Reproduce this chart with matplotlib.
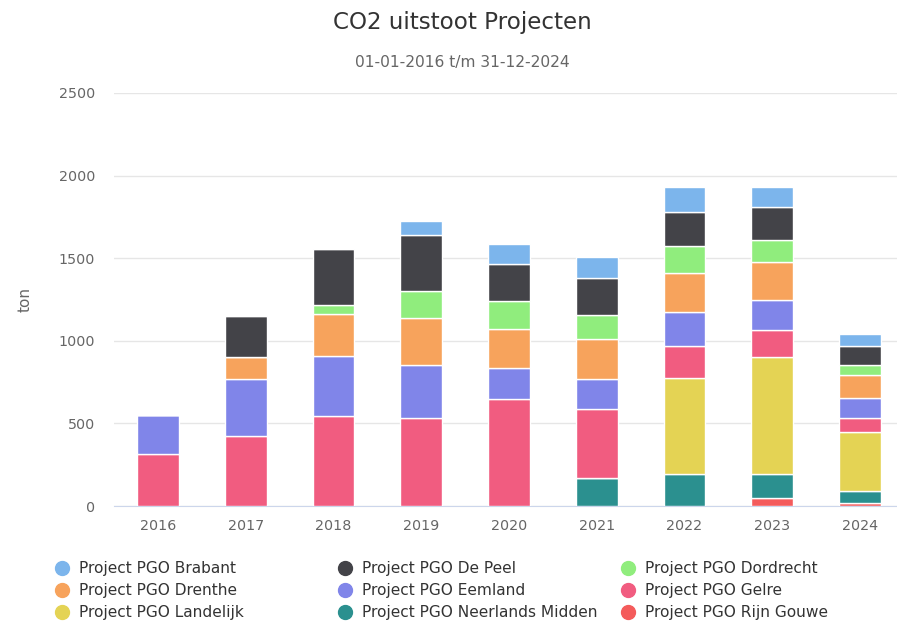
import numpy as np
import matplotlib.pyplot as plt
from matplotlib.lines import Line2D

plt.rcParams['font.family'] = ['DejaVu Sans']

years = ['2016', '2017', '2018', '2019', '2020', '2021', '2022', '2023', '2024']

# legend order (row-wise, 3 per row)
series_names = [
    'Project PGO Brabant', 'Project PGO De Peel', 'Project PGO Dordrecht',
    'Project PGO Drenthe', 'Project PGO Eemland', 'Project PGO Gelre',
    'Project PGO Landelijk', 'Project PGO Neerlands Midden', 'Project PGO Rijn Gouwe',
]
series_colors = ['#7cb5ec', '#434348', '#90ed7d', '#f7a35c', '#8085e9',
                 '#f15c80', '#e4d354', '#2b908f', '#f45b5b']

brabant = [0, 0, 0, 85, 121, 127, 151, 120, 75]
de_peel = [0, 246, 339, 336, 228, 221, 205, 198, 117]
dordrecht = [0, 0, 54, 167, 165, 149, 163, 135, 60]
drenthe = [0, 137, 258, 283, 236, 242, 236, 232, 137]
eemland = [237, 343, 361, 322, 191, 182, 206, 177, 125]
gelre = [313, 423, 546, 530, 647, 415, 193, 165, 85]
landelijk = [0, 0, 0, 0, 0, 0, 584, 711, 352]
neerlands_midden = [0, 0, 0, 0, 0, 171, 192, 146, 73]
rijn_gouwe = [0, 0, 0, 0, 0, 0, 0, 46, 20]

series_values = [brabant, de_peel, dordrecht, drenthe, eemland, gelre,
                 landelijk, neerlands_midden, rijn_gouwe]

fig = plt.figure(figsize=(8.97, 6.23), dpi=100, facecolor='white')
ax = fig.add_axes([114 / 897, 1 - 506 / 623, 790 / 897, 413 / 623])

x = np.arange(len(years))
bottom = np.zeros(len(years))
# stacked bottom-up: last series at the bottom
for name, color, vals in reversed(list(zip(series_names, series_colors, series_values))):
    vals = np.array(vals, dtype=float)
    ax.bar(x, vals, width=0.475, bottom=bottom, color=color,
           edgecolor='white', linewidth=1, zorder=3)
    bottom += vals

ax.set_xlim(-0.5, len(years) - 0.5)
ax.set_ylim(0, 2500)
ax.set_yticks(np.arange(0, 2501, 500))
ax.set_xticks(x)
ax.set_xticklabels(years)
ax.tick_params(axis='both', length=0, colors='#666666', labelsize=10.3)
ax.tick_params(axis='y', pad=13.5)
ax.tick_params(axis='x', pad=9.5)
ax.grid(True, axis='y', color='#e6e6e6', linewidth=1, zorder=0)
for s in ['top', 'right', 'left']:
    ax.spines[s].set_visible(False)
ax.spines['bottom'].set_color('#ccd6eb')
ax.set_ylabel('ton', color='#666666', fontsize=11, labelpad=19)

fig.text(462 / 897, 1 - 23 / 623, 'CO2 uitstoot Projecten', ha='center', va='center',
         fontsize=16.6, color='#333333')
fig.text(462 / 897, 1 - 63 / 623, '01-01-2016 t/m 31-12-2024', ha='center', va='center',
         fontsize=11.2, color='#666666')

# legend, 3 columns
col_x = [62, 345, 628]
row_y = [568, 590, 612]
for i, (name, color) in enumerate(zip(series_names, series_colors)):
    cx = col_x[i % 3] / 897
    cy = 1 - row_y[i // 3] / 623
    fig.add_artist(Line2D([cx], [cy], marker='o', markersize=10, color=color,
                          linestyle='none', transform=fig.transFigure))
    fig.text(cx + 17 / 897, cy, name, ha='left', va='center', fontsize=11.1,
             color='#333333')

fig.savefig('out.png', dpi=100, facecolor='white')
